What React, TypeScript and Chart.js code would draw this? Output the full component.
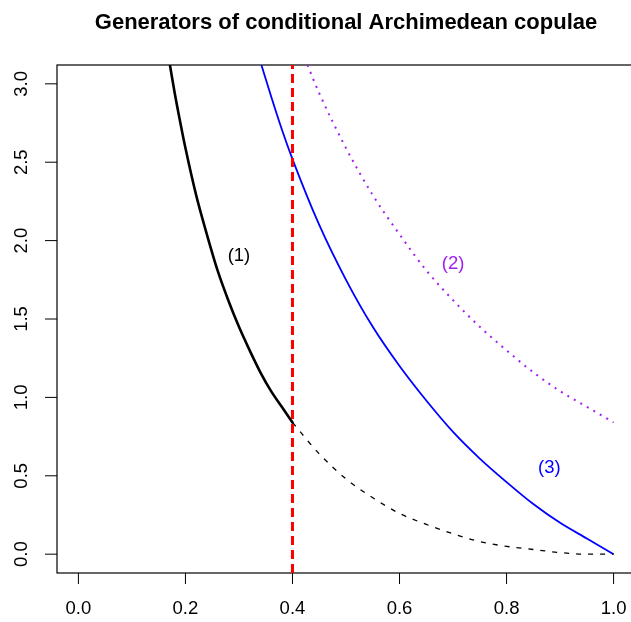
import React, { useEffect, useRef } from "react";
import { Chart, registerables } from "chart.js";

Chart.register(...registerables);

const TITLE = "Generators of conditional Archimedean copulae";

const xTickValues = [0, 0.2, 0.4, 0.6, 0.8, 1.0];
const xTickLabels = ["0.0", "0.2", "0.4", "0.6", "0.8", "1.0"];
const yTickValues = [0, 0.5, 1, 1.5, 2, 2.5, 3];
const yTickLabels = ["0.0", "0.5", "1.0", "1.5", "2.0", "2.5", "3.0"];
const xRange = [-0.04, 1.04];
const yRange = [-0.12, 3.12];

// (1) black solid part
const blackSolidX = [0.171, 0.18, 0.19, 0.2, 0.22, 0.24, 0.26, 0.28, 0.3, 0.32, 0.34, 0.36, 0.38, 0.4];
const blackSolidY = [3.12, 2.94, 2.76, 2.59, 2.29, 2.04, 1.81, 1.62, 1.45, 1.3, 1.16, 1.04, 0.94, 0.84];
// (1) black dashed continuation
const blackDashX = [0.4, 0.45, 0.5, 0.55, 0.6, 0.65, 0.7, 0.75, 0.8, 0.85, 0.9, 0.95, 1.0];
const blackDashY = [0.84, 0.64, 0.48, 0.36, 0.26, 0.19, 0.13, 0.08, 0.05, 0.03, 0.01, 0.0, 0.0];
// (3) blue solid
const blueX = [0.342, 0.36, 0.38, 0.4, 0.45, 0.5, 0.55, 0.6, 0.65, 0.7, 0.75, 0.8, 0.85, 0.9, 0.95, 1.0];
const blueY = [3.12, 2.92, 2.71, 2.52, 2.1, 1.75, 1.45, 1.2, 0.98, 0.78, 0.61, 0.46, 0.32, 0.2, 0.1, 0.0];
// (2) purple dotted
const purpleX = [0.428, 0.45, 0.5, 0.55, 0.6, 0.65, 0.7, 0.75, 0.8, 0.85, 0.9, 0.95, 1.0];
const purpleY = [3.12, 2.94, 2.59, 2.29, 2.04, 1.81, 1.62, 1.45, 1.3, 1.16, 1.04, 0.94, 0.84];
// red vertical reference line
const vLineX = [0.4, 0.4];
const vLineY = [-0.12, 3.12];

const labelTexts = ["(1)", "(2)", "(3)"];
const labelX = [0.3, 0.7, 0.88];
const labelY = [1.9, 1.85, 0.55];
const labelColors = ["#000000", "#A020F0", "#0000FF"];

const FONT_FAMILY = '"Liberation Sans", Arial, Helvetica, sans-serif';

function pts(xs: number[], ys: number[]) {
  return xs.map((x, i) => ({ x, y: ys[i] }));
}

export default function App() {
  const ref = useRef<HTMLCanvasElement>(null);

  useEffect(() => {
    const canvas = ref.current!;
    const axesPlugin = {
      id: "rAxes",
      beforeDatasetsDraw(chart: any) {
        const { ctx, chartArea: a, scales } = chart;
        const x = scales.x;
        const y = scales.y;
        ctx.save();
        ctx.strokeStyle = "#000000";
        ctx.lineWidth = 1.2;
        ctx.strokeRect(a.left, a.top, a.right - a.left, a.bottom - a.top);
        ctx.lineWidth = 1;
        ctx.fillStyle = "#000000";
        ctx.font = `18.5px ${FONT_FAMILY}`;
        ctx.textAlign = "center";
        ctx.textBaseline = "middle";
        xTickValues.forEach((v, i) => {
          const px = x.getPixelForValue(v);
          ctx.beginPath();
          ctx.moveTo(px, a.bottom);
          ctx.lineTo(px, a.bottom + 11);
          ctx.stroke();
          ctx.fillText(xTickLabels[i], px, a.bottom + 36);
        });
        yTickValues.forEach((v, i) => {
          const py = y.getPixelForValue(v);
          ctx.beginPath();
          ctx.moveTo(a.left - 12, py);
          ctx.lineTo(a.left, py);
          ctx.stroke();
          ctx.save();
          ctx.translate(a.left - 35, py);
          ctx.rotate(-Math.PI / 2);
          ctx.fillText(yTickLabels[i], 0, 0);
          ctx.restore();
        });
        ctx.font = `bold 22px ${FONT_FAMILY}`;
        ctx.textBaseline = "alphabetic";
        ctx.fillText(TITLE, (a.left + a.right) / 2, 29);
        ctx.restore();
      },
      afterDatasetsDraw(chart: any) {
        const { ctx, scales } = chart;
        ctx.save();
        ctx.font = `18.5px ${FONT_FAMILY}`;
        ctx.textAlign = "center";
        ctx.textBaseline = "middle";
        labelTexts.forEach((t, i) => {
          ctx.fillStyle = labelColors[i];
          ctx.fillText(t, scales.x.getPixelForValue(labelX[i]), scales.y.getPixelForValue(labelY[i]));
        });
        ctx.restore();
      },
    };

    const common = {
      showLine: true,
      pointRadius: 0,
      pointHoverRadius: 0,
      fill: false,
    };

    const chart = new Chart(canvas, {
      type: "line",
      data: {
        datasets: [
          {
            ...common,
            data: pts(vLineX, vLineY),
            borderColor: "#FF0000",
            borderWidth: 3,
            borderDash: [9, 5],
            borderCapStyle: "butt",
          },
          {
            ...common,
            data: pts(blackSolidX, blackSolidY),
            borderColor: "#000000",
            borderWidth: 2.6,
            cubicInterpolationMode: "monotone",
            borderCapStyle: "round",
          },
          {
            ...common,
            data: pts(blackDashX, blackDashY),
            borderColor: "#000000",
            borderWidth: 1.3,
            borderDash: [5, 7],
            cubicInterpolationMode: "monotone",
          },
          {
            ...common,
            data: pts(blueX, blueY),
            borderColor: "#0000FF",
            borderWidth: 1.8,
            cubicInterpolationMode: "monotone",
          },
          {
            ...common,
            data: pts(purpleX, purpleY),
            borderColor: "#A020F0",
            borderWidth: 2,
            borderDash: [2, 5.5],
            cubicInterpolationMode: "monotone",
          },
        ] as any,
      },
      options: {
        responsive: false,
        devicePixelRatio: 1,
        animation: false,
        events: [],
        layout: { padding: { left: 57, right: 5, top: 65, bottom: 49 } },
        scales: {
          x: { type: "linear", display: false, min: xRange[0], max: xRange[1] },
          y: { type: "linear", display: false, min: yRange[0], max: yRange[1] },
        },
        plugins: {
          legend: { display: false },
          tooltip: { enabled: false },
          title: { display: false },
        },
      } as any,
      plugins: [axesPlugin],
    });
    return () => chart.destroy();
  }, []);

  return (
    <div
      style={{
        position: "fixed",
        left: 0,
        top: 0,
        width: 631,
        height: 622,
        overflow: "hidden",
        background: "#ffffff",
      }}
    >
      <canvas ref={ref} width={640} height={622} style={{ display: "block", width: 640, height: 622 }} />
    </div>
  );
}
